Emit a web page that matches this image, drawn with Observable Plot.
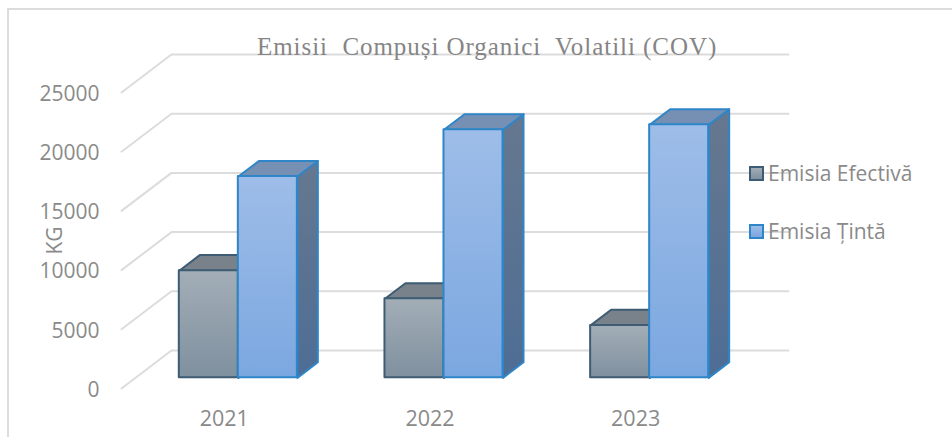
<!DOCTYPE html>
<html><head><meta charset="utf-8">
<script src="https://cdn.jsdelivr.net/npm/d3@7"></script>
<script src="https://cdn.jsdelivr.net/npm/@observablehq/plot@0.6"></script>
<style>
html,body{margin:0;padding:0;background:#fff;overflow:hidden}
#wrap{position:relative;width:952px;height:437px}
#frame{position:absolute;left:7px;top:8px;width:950px;height:440px;border:2px solid #dcdcdc;box-sizing:border-box}
#title{position:absolute;left:257px;top:33px;font:25px "Liberation Serif",serif;color:#858585;white-space:pre;letter-spacing:.95px}
.lg{position:absolute;left:749px;font:21px "Open Sans",sans-serif;color:#8a8a8a;white-space:pre;display:flex;align-items:center;height:22px}
.sw{width:11px;height:11px;border:2px solid;margin-right:4px;display:inline-block;flex:none}
#chart{position:absolute;left:0;top:0}
</style></head><body>
<div id="wrap">
<div id="chart"></div>
<div id="frame"></div>
<div id="title">Emisii  Compuși Organici  Volatili (COV)</div>
<div class="lg" style="top:162px"><span class="sw" style="border-color:#3e5c74;background:linear-gradient(#a2adb6,#7f909f)"></span>Emisia Efectivă</div>
<div class="lg" style="top:220px"><span class="sw" style="border-color:#2e86c8;background:linear-gradient(#9dbce8,#7ba7e0)"></span>Emisia Țintă</div>
</div>
<script>
const years = ["2021", "2022", "2023"];
const emisiaEfectiva = [9050, 6680, 4430];
const emisiaTinta = [17000, 20950, 21370];
const yTicks = [0, 5000, 10000, 15000, 20000, 25000];

// oblique projection: depth 0 = front of the floor, depth 1 = back wall
const DX = 0.243, DY = 3210;
const barNear = 0.28, barFar = 0.69, barW = 0.287;
const px = (u, d) => u + d * DX;
const py = (v, d) => v + d * DY;
const quad = (id, pts) => pts.map(([x, y]) => ({id, x, y}));

const grid = yTicks.flatMap(v => quad(v, [
  [px(-0.5, 0), py(v, 0)], [px(-0.5, 1), py(v, 1)], [px(2.5, 1), py(v, 1)]
]));

function faces(values, x0) {
  const fronts = [], tops = [], sides = [];
  values.forEach((v, i) => {
    const a = i + x0, b = a + barW;
    fronts.push({x1: px(a, barNear), x2: px(b, barNear), y1: py(0, barNear), y2: py(v, barNear)});
    tops.push(...quad(i, [[px(a, barNear), py(v, barNear)], [px(b, barNear), py(v, barNear)], [px(b, barFar), py(v, barFar)], [px(a, barFar), py(v, barFar)], [px(a, barNear), py(v, barNear)]]));
    sides.push(...quad(i, [[px(b, barNear), py(0, barNear)], [px(b, barFar), py(0, barFar)], [px(b, barFar), py(v, barFar)], [px(b, barNear), py(v, barNear)], [px(b, barNear), py(0, barNear)]]));
  });
  return {fronts, tops, sides};
}
function barMarks(values, x0, c) {
  const f = faces(values, x0);
  const outline = {stroke: c.stroke, strokeWidth: 2, strokeLinejoin: "round"};
  return [
    Plot.line(f.sides, {x: "x", y: "y", z: "id", fill: c.side, curve: "linear", ...outline}),
    Plot.line(f.tops, {x: "x", y: "y", z: "id", fill: c.top, curve: "linear", ...outline}),
    Plot.rect(f.fronts, {x1: "x1", x2: "x2", y1: "y1", y2: "y2", fill: c.front, ...outline})
  ];
}
const defs = () => {
  const svg = d3.create("svg:defs");
  const g = (id, a, b) => {
    const l = svg.append("linearGradient").attr("id", id).attr("x1", 0).attr("x2", 0).attr("y1", 0).attr("y2", 1);
    l.append("stop").attr("offset", 0).attr("stop-color", a);
    l.append("stop").attr("offset", 1).attr("stop-color", b);
  };
  g("effFront", "#a3aeb7", "#7f909f");
  g("tinFront", "#9ebde8", "#7ba7e0");
  g("tinSide", "#66788f", "#4e6d95");
  return svg.node();
};

const chart = Plot.plot({
  width: 952, height: 437,
  marginLeft: 121, marginRight: 214, marginTop: 92, marginBottom: 49,
  style: {background: "transparent", color: "#8a8a8a", fontFamily: "Open Sans, sans-serif", fontSize: "21px", overflow: "visible"},
  x: {domain: [-0.5, 2.5]},
  y: {domain: [0, 25000]},
  marks: [
    defs,
    Plot.line(grid, {x: "x", y: "y", z: "id", stroke: "#dcdcdc", strokeWidth: 2, curve: "linear"}),
    Plot.axisY({ticks: yTicks, tickSize: 0, tickPadding: 22, dy: 1.5, tickFormat: d => String(d), fontSize: 21, fill: "#8a8a8a",
      label: "KG", labelAnchor: "center", labelArrow: "none", labelOffset: 74}),
    Plot.axisX({ticks: [0, 1, 2], tickSize: 0, tickPadding: 22, tickFormat: d => years[d], fontSize: 21.5, fill: "#8a8a8a", label: null}),
    ...barMarks(emisiaEfectiva, -barW, {stroke: "#3e5c74", front: "url(#effFront)", top: "#79818a", side: "#6a7480"}),
    ...barMarks(emisiaTinta, 0, {stroke: "#2e86c8", front: "url(#tinFront)", top: "#7690b4", side: "url(#tinSide)"})
  ]
});
document.getElementById("chart").append(chart);
</script>
</body></html>
